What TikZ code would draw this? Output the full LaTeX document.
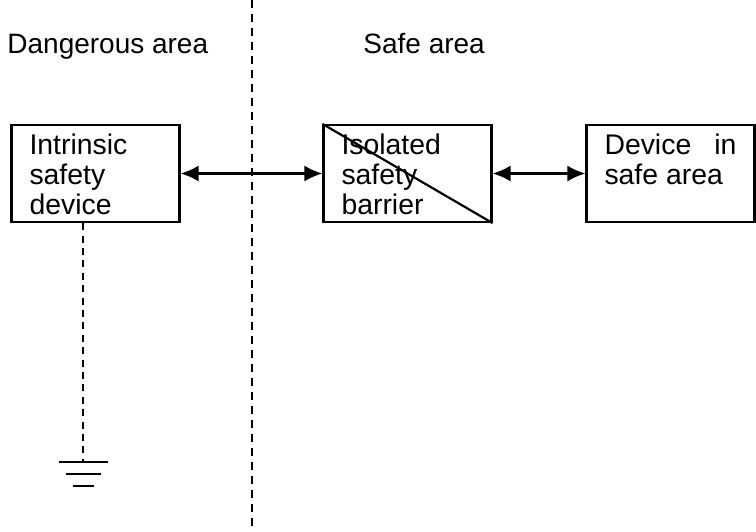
\documentclass[tikz,border=0pt]{standalone}
\usepackage{fontspec}
\setmainfont{Liberation Sans}
\usetikzlibrary{arrows.meta,calc}

% box text: fixed-height parbox so the lines sit at the top
\newcommand{\boxlines}[1]{\parbox[t][40pt][t]{66pt}{\strut#1}}

\tikzset{
    blockbox/.style={draw, line width=1.1pt, inner xsep=9pt, inner ysep=4.25pt,
        font=\fontsize{14.2}{15}\selectfont},
    arealabel/.style={anchor=base west, inner sep=0pt,
        font=\fontsize{14}{15}\selectfont},
    linkarrow/.style={line width=1.1pt, {Latex[length=9pt,width=8pt]}-{Latex[length=9pt,width=8pt]}},
    borderline/.style={line width=1.2pt, dash pattern=on 4pt off 3pt},
    earthline/.style={line width=1.2pt, dash pattern=on 3.5pt off 2.7pt}
}

\begin{document}
\begin{tikzpicture}[x=0.5pt, y=-0.5pt]
\useasboundingbox (0,0) rectangle (756,531);

% zone border
\coordinate (ztop) at (252,0);
\coordinate (zbot) at (252,531);
\draw[borderline] (ztop) -- (zbot);

\node[arealabel] (danger) at (7,53) {Dangerous area};
\node[arealabel] (safe) at (363,53) {Safe area};

% the three blocks
\node[blockbox] (intr) at (95.5,173.5) {\boxlines{Intrinsic\\safety\\device}};
\node[blockbox] (barrier) at (407.5,173.5) {\boxlines{Isolated\\safety\\barrier}};
\node[blockbox] (dev) at (670.5,173.5) {\boxlines{Device\hfill in\\safe area}};

\draw[line width=1.1pt] (barrier.north west) -- (barrier.south east);

\draw[linkarrow] (intr) -- (barrier);
\draw[linkarrow] (barrier) -- (dev);

% earth
\coordinate (gnd) at (83,462);
\draw[earthline] (intr.south -| gnd) -- (gnd);
\draw[line width=1.1pt] ($(gnd)+(-24,0)$) -- ($(gnd)+(25,0)$);
\draw[line width=1.1pt] ($(gnd)+(-17,12)$) -- ($(gnd)+(18,12)$);
\draw[line width=1.1pt] ($(gnd)+(-10,24)$) -- ($(gnd)+(11,24)$);
\end{tikzpicture}
\end{document}
